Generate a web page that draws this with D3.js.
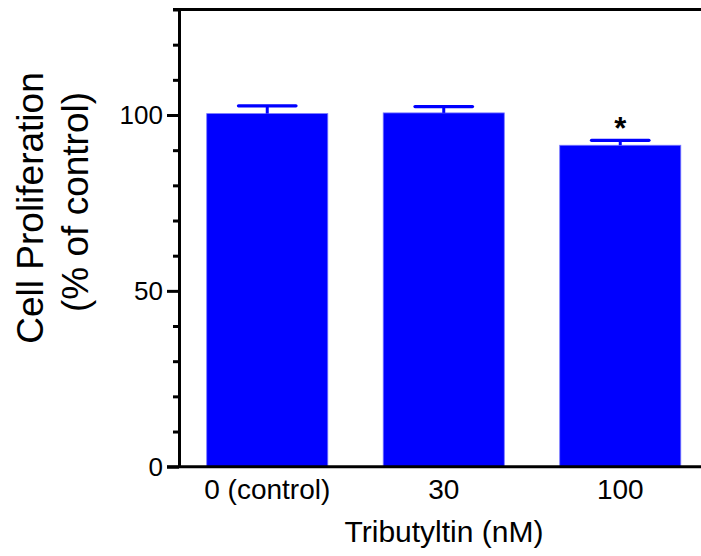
<!DOCTYPE html>
<html>
<head>
<meta charset="utf-8">
<script src="https://cdn.jsdelivr.net/npm/d3@7"></script>
<style>
	body { margin: 0; background: #fff; }
	svg text { font-family: "Liberation Sans", Arial, sans-serif; fill: #000; }
</style>
</head>
<body>
<div id="chart"></div>
<script>
	// values
	var categories = ["0 (control)", "30", "100"]
	var means = [100.4, 100.6, 91.4]
	var errors = [2.2, 1.8, 1.4]
	var marks = ["", "", "*"]
	var majorTicks = [0, 50, 100]
	var minorTicks = [10, 20, 30, 40, 60, 70, 80, 90, 110, 120, 130]

	var width = 701, height = 556

	var svg = d3.select("#chart").append("svg")
		.attr("width", width)
		.attr("height", height)

	var x = d3.scaleBand()
		.domain(categories)
		.range([179, 708.5])
		.paddingInner(0.314)
		.paddingOuter(0.157)

	var y = d3.scaleLinear()
		.domain([0, 130])
		.range([466.7, 9.5])

	// bars
	svg.selectAll("rect.bar")
		.data(means)
		.enter().append("rect")
		.attr("class", "bar")
		.attr("x", function(d, i){ return x(categories[i]) })
		.attr("width", x.bandwidth())
		.attr("y", function(d){ return y(d) })
		.attr("height", function(d){ return y(0) - y(d) })
		.attr("fill", "#0000ff")
		.attr("stroke", "#7878ff")
		.attr("stroke-width", 0.8)

	// error bars (upper half only)
	var eb = svg.selectAll("g.err")
		.data(means)
		.enter().append("g")
		.attr("class", "err")
		.attr("transform", function(d, i){ return "translate(" + (x(categories[i]) + x.bandwidth()/2) + ",0)" })

	eb.append("line")
		.attr("x1", 0).attr("x2", 0)
		.attr("y1", function(d){ return y(d) })
		.attr("y2", function(d, i){ return y(d + errors[i]) })
		.attr("stroke", "#0000ff")
		.attr("stroke-width", 3)

	eb.append("line")
		.attr("x1", -x.bandwidth()/4 + 1.5)
		.attr("x2", x.bandwidth()/4 - 1.5)
		.attr("y1", function(d, i){ return y(d + errors[i]) })
		.attr("y2", function(d, i){ return y(d + errors[i]) })
		.attr("stroke", "#0000ff")
		.attr("stroke-width", 3.2)
		.attr("stroke-linecap", "round")

	eb.append("text")
		.attr("y", function(d, i){ return y(d + errors[i]) - 1 })
		.attr("text-anchor", "middle")
		.style("font-size", "31px")
		.style("font-weight", "bold")
		.text(function(d, i){ return marks[i] })

	// y axis: minor ticks
	var minorAxis = d3.axisLeft(y)
		.tickValues(minorTicks)
		.tickSize(6)
		.tickSizeOuter(0)
		.tickFormat("")

	svg.append("g")
		.attr("transform", "translate(179,0)")
		.call(minorAxis)
		.call(function(g){
			g.selectAll("line").attr("stroke", "#000").attr("stroke-width", 3)
			g.select(".domain").attr("stroke", "#000").attr("stroke-width", 3)
		})

	// y axis: major ticks with labels
	var majorAxis = d3.axisLeft(y)
		.tickValues(majorTicks)
		.tickSize(12)
		.tickSizeOuter(0)
		.tickPadding(4)

	svg.append("g")
		.attr("transform", "translate(179,0)")
		.call(majorAxis)
		.call(function(g){
			g.select(".domain").remove()
			g.selectAll("line").attr("stroke", "#000").attr("stroke-width", 3)
			g.selectAll("text").style("font-size", "26px").style("font-family", "Liberation Sans, Arial, sans-serif")
		})

	// top frame line
	svg.append("line")
		.attr("x1", 173).attr("x2", width)
		.attr("y1", y(130)).attr("y2", y(130))
		.attr("stroke", "#000")
		.attr("stroke-width", 3)

	// x axis
	var xAxis = d3.axisBottom(x)
		.tickSize(0)
		.tickSizeOuter(0)
		.tickPadding(12)

	svg.append("g")
		.attr("transform", "translate(0," + y(0) + ")")
		.call(xAxis)
		.call(function(g){
			g.select(".domain").remove()
			g.selectAll("text").style("font-size", "28px").style("font-family", "Liberation Sans, Arial, sans-serif")
		})

	svg.append("line")
		.attr("x1", 167).attr("x2", width)
		.attr("y1", y(0)).attr("y2", y(0))
		.attr("stroke", "#000")
		.attr("stroke-width", 3)

	// axis titles
	svg.append("text")
		.attr("x", 444)
		.attr("y", 542)
		.attr("text-anchor", "middle")
		.style("font-size", "30px")
		.text("Tributyltin (nM)")

	svg.append("text")
		.attr("transform", "translate(43,208) rotate(-90)")
		.attr("text-anchor", "middle")
		.style("font-size", "37px")
		.text("Cell Proliferation")

	svg.append("text")
		.attr("transform", "translate(88,202) rotate(-90)")
		.attr("text-anchor", "middle")
		.style("font-size", "37px")
		.text("(% of control)")
</script>
</body>
</html>
